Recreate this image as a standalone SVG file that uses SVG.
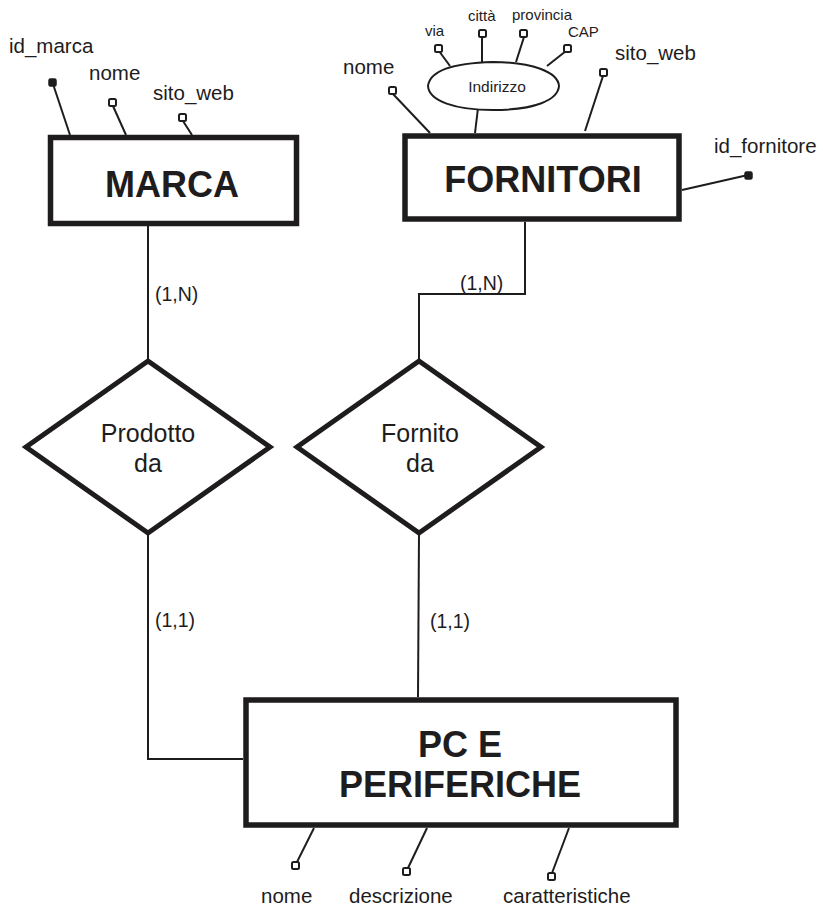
<svg xmlns="http://www.w3.org/2000/svg" width="823" height="909" viewBox="0 0 823 909">
  <style>
    text { font-family: "Liberation Sans", Arial, sans-serif; fill: #1e1c1c; }
    .ent { fill: #fff; stroke: #1e1c1c; stroke-width: 5.5; }
    .rel { fill: #fff; stroke: #1e1c1c; stroke-width: 5; stroke-linejoin: miter; }
    .title { font-weight: bold; font-size: 36px; text-anchor: middle; }
    .rtext { font-size: 25px; text-anchor: middle; }
    .attr { font-size: 20.5px; }
    .small { font-size: 15px; }
    .card { font-size: 19.5px; }
    .link { fill: none; stroke: #1e1c1c; stroke-width: 2; }
    .key { fill: #1e1c1c; stroke: #1e1c1c; stroke-width: 1.5; }
    .opt { fill: #fff; stroke: #1e1c1c; stroke-width: 2; }
  </style>

  <!-- connectors between entities and relationships -->
  <g id="connectors">
    <polyline class="link" points="148,226 148,361"/>
    <polyline class="link" points="525,222 525,294 419,294 419,361"/>
    <polyline class="link" points="148,533 148,759 243,759"/>
    <polyline class="link" points="419,533 418,697"/>
    <text class="card" x="155" y="301">(1,N)</text>
    <text class="card" x="460" y="290">(1,N)</text>
    <text class="card" x="155" y="627">(1,1)</text>
    <text class="card" x="430" y="628">(1,1)</text>
  </g>

  <!-- entity MARCA with its attributes -->
  <g id="marca">
    <line class="link" x1="70" y1="135" x2="53" y2="84"/>
    <rect class="key" x="49" y="79" width="7" height="7" rx="1.5"/>
    <line class="link" x1="126" y1="135" x2="113" y2="106"/>
    <rect class="opt" x="109" y="99" width="7" height="7" rx="1.5"/>
    <line class="link" x1="192" y1="135" x2="183" y2="121"/>
    <rect class="opt" x="179" y="114" width="7" height="7" rx="1.5"/>
    <text class="attr" x="9" y="53">id_marca</text>
    <text class="attr" x="89" y="80">nome</text>
    <text class="attr" x="153" y="100">sito_web</text>
    <rect class="ent" x="50.5" y="137.5" width="246" height="86"/>
    <text class="title" x="172" y="197">MARCA</text>
  </g>

  <!-- entity FORNITORI with its attributes and the composite Indirizzo -->
  <g id="fornitori">
    <line class="link" x1="430" y1="133" x2="393" y2="94"/>
    <rect class="opt" x="389" y="87" width="7" height="7" rx="1.5"/>
    <text class="attr" x="343" y="74">nome</text>

    <line class="link" x1="475" y1="133" x2="478" y2="108"/>
    <line class="link" x1="450" y1="66" x2="439" y2="51"/>
    <rect class="opt" x="435" y="45" width="7" height="7" rx="1.5"/>
    <line class="link" x1="482" y1="62" x2="482" y2="36"/>
    <rect class="opt" x="479" y="30" width="7" height="7" rx="1.5"/>
    <line class="link" x1="516" y1="62" x2="524" y2="37"/>
    <rect class="opt" x="520" y="30" width="7" height="7" rx="1.5"/>
    <line class="link" x1="547" y1="66" x2="566" y2="51"/>
    <rect class="opt" x="564" y="45" width="7" height="7" rx="1.5"/>
    <path class="opt" d="M428,86 C430,70 455,63 493,62 C532,62 558,72 559,86 C558,100 535,110 493,110 C455,110 429,101 428,86 Z"/>
    <text x="497" y="92" text-anchor="middle" font-size="15.5">Indirizzo</text>
    <text class="small" x="425" y="36">via</text>
    <text class="small" x="468" y="21">città</text>
    <text class="small" x="512" y="20">provincia</text>
    <text class="small" x="568" y="37">CAP</text>

    <line class="link" x1="585" y1="131" x2="603" y2="76"/>
    <rect class="opt" x="600" y="69" width="7" height="7" rx="1.5"/>
    <text class="attr" x="615" y="60">sito_web</text>

    <line class="link" x1="682" y1="190" x2="748" y2="175"/>
    <rect class="key" x="745" y="172" width="7" height="7" rx="1.5"/>
    <text class="attr" x="714" y="153">id_fornitore</text>

    <rect class="ent" x="405" y="136" width="274" height="83"/>
    <text class="title" x="543" y="192">FORNITORI</text>
  </g>

  <!-- relationship Prodotto da -->
  <g id="prodotto-da">
    <polygon class="rel" points="148,361 270,447 148,533 26,447"/>
    <text class="rtext" x="148" y="442">Prodotto</text>
    <text class="rtext" x="148" y="472">da</text>
  </g>

  <!-- relationship Fornito da -->
  <g id="fornito-da">
    <polygon class="rel" points="419,361 541,447 419,533 297,447"/>
    <text class="rtext" x="420" y="442">Fornito</text>
    <text class="rtext" x="420" y="472">da</text>
  </g>

  <!-- entity PC E PERIFERICHE with its attributes -->
  <g id="pc-periferiche">
    <line class="link" x1="314" y1="828" x2="297" y2="862"/>
    <rect class="opt" x="292" y="862" width="7" height="7" rx="1.5"/>
    <line class="link" x1="427" y1="828" x2="408" y2="868"/>
    <rect class="opt" x="403" y="868" width="7" height="7" rx="1.5"/>
    <line class="link" x1="569" y1="828" x2="552" y2="873"/>
    <rect class="opt" x="548" y="873" width="7" height="7" rx="1.5"/>
    <text class="attr" x="261" y="903">nome</text>
    <text class="attr" x="349" y="903">descrizione</text>
    <text class="attr" x="503" y="903">caratteristiche</text>
    <rect class="ent" x="246" y="700" width="430" height="125"/>
    <text class="title" x="460" y="757">PC E</text>
    <text class="title" x="460" y="797">PERIFERICHE</text>
  </g>
</svg>
